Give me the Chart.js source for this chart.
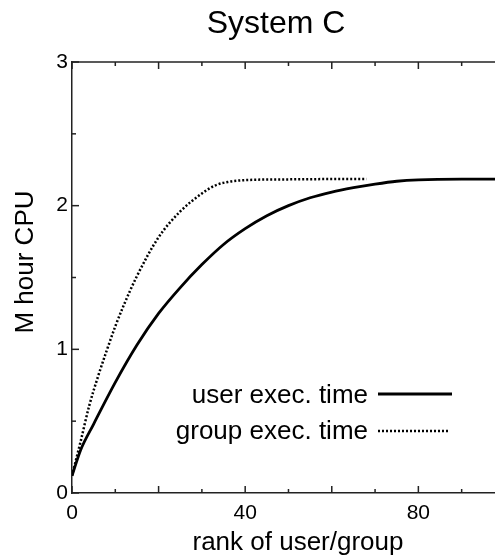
<!DOCTYPE html>
<html>
<head>
<meta charset="utf-8">
<script src="https://cdn.jsdelivr.net/npm/chart.js@4/dist/chart.umd.min.js"></script>
<style>
  html, body { margin: 0; padding: 0; background: #fff; overflow: hidden; }
  #wrap { width: 495px; height: 560px; position: relative; }
</style>
</head>
<body>
<div id="wrap"><canvas id="cpuChart"></canvas></div>
<script>
// --- data ---
const userRank = [0, 2, 5, 10, 15, 20, 25, 30, 35, 40, 45, 50, 55, 60, 65, 70, 75, 80, 90, 100];
const userCpu = [0.12, 0.30, 0.48, 0.77, 1.03, 1.25, 1.43, 1.59, 1.73, 1.84, 1.93, 2.00, 2.055, 2.095, 2.125, 2.15, 2.17, 2.18, 2.185, 2.185];

const groupRank = [0, 2, 4, 6, 8, 10, 12, 15, 20, 25, 30, 33, 36, 40, 50, 60, 68];
const groupCpu = [0.12, 0.36, 0.61, 0.81, 0.99, 1.16, 1.31, 1.51, 1.78, 1.96, 2.085, 2.14, 2.165, 2.178, 2.183, 2.185, 2.185];

const xLabels = [0, 40, 80];
const yLabels = [0, 1, 2, 3];

const FONT = "'Liberation Sans', Arial, sans-serif";
const INK = "#000";

// inward tick marks, top border, titles and the legend
const framePlugin = {
  id: "frame",
  afterDraw(chart) {
    const ctx = chart.ctx;
    const area = chart.chartArea;
    const xs = chart.scales.x;
    const ys = chart.scales.y;
    ctx.save();
    ctx.strokeStyle = "#222";
    ctx.lineWidth = 1.5;

    // top border
    ctx.beginPath();
    ctx.moveTo(area.left, area.top);
    ctx.lineTo(area.right, area.top);
    ctx.stroke();

    // x ticks (bottom and top)
    for (let v = 0; v <= xs.max; v += 10) {
      const px = xs.getPixelForValue(v);
      const len = v % 20 === 0 ? 7 : 4;
      ctx.beginPath();
      ctx.moveTo(px, area.bottom);
      ctx.lineTo(px, area.bottom - len);
      ctx.moveTo(px, area.top);
      ctx.lineTo(px, area.top + len);
      ctx.stroke();
    }
    // y ticks (left)
    for (let v = 0; v <= ys.max; v += 0.5) {
      const py = ys.getPixelForValue(v);
      const len = Number.isInteger(v) ? 7 : 4;
      ctx.beginPath();
      ctx.moveTo(area.left, py);
      ctx.lineTo(area.left + len, py);
      ctx.stroke();
    }

    // titles
    ctx.fillStyle = INK;
    ctx.textBaseline = "alphabetic";
    ctx.textAlign = "center";
    ctx.font = "32px " + FONT;
    ctx.fillText("System C", 276, 33);

    ctx.font = "26px " + FONT;
    ctx.fillText("rank of user/group", 298, 550);

    ctx.save();
    ctx.translate(33, 262);
    ctx.rotate(-Math.PI / 2);
    ctx.fillText("M hour CPU", 0, 0);
    ctx.restore();

    // legend
    const rows = [
      { y: 403, lineY: 394, len: 74 },
      { y: 439, lineY: 431, len: 71 }
    ];
    chart.data.datasets.forEach((ds, i) => {
      const r = rows[i];
      ctx.textAlign = "right";
      ctx.font = "26px " + FONT;
      ctx.fillText(ds.label, 368, r.y);
      ctx.beginPath();
      ctx.setLineDash(ds.borderDash || []);
      ctx.lineWidth = ds.borderWidth;
      ctx.strokeStyle = ds.borderColor;
      ctx.moveTo(378, r.lineY);
      ctx.lineTo(378 + r.len, r.lineY);
      ctx.stroke();
      ctx.setLineDash([]);
    });
    ctx.restore();
  }
};

new Chart(document.getElementById("cpuChart"), {
  type: "line",
  data: {
    datasets: [
      {
        label: "user exec. time",
        data: userRank.map((r, i) => ({ x: r, y: userCpu[i] })),
        borderColor: INK,
        borderWidth: 2.8,
        pointRadius: 0,
        cubicInterpolationMode: "monotone",
        fill: false
      },
      {
        label: "group exec. time",
        data: groupRank.map((r, i) => ({ x: r, y: groupCpu[i] })),
        borderColor: INK,
        borderWidth: 2.5,
        borderDash: [2, 2],
        pointRadius: 0,
        cubicInterpolationMode: "monotone",
        fill: false
      }
    ]
  },
  options: {
    responsive: true,
    maintainAspectRatio: false,
    animation: false,
    layout: { padding: { top: 62, left: 0, right: 0, bottom: 0 } },
    plugins: {
      legend: { display: false },
      title: { display: false },
      tooltip: { enabled: false }
    },
    scales: {
      x: {
        type: "linear",
        min: 0,
        max: 97.7,
        grid: { display: false, drawTicks: false },
        border: { display: true, color: "#222", width: 1.5 },
        ticks: {
          stepSize: 10,
          includeBounds: false,
          autoSkip: false,
          maxRotation: 0,
          padding: 8,
          color: INK,
          font: { family: FONT, size: 21 },
          callback: v => xLabels.includes(v) ? String(v) : ""
        },
        afterFit: s => { s.height = 67; }
      },
      y: {
        min: 0,
        max: 3,
        grid: { display: false, drawTicks: false },
        border: { display: true, color: "#222", width: 1.5 },
        ticks: {
          stepSize: 0.5,
          autoSkip: false,
          padding: 4,
          color: INK,
          font: { family: FONT, size: 21 },
          callback: v => yLabels.includes(v) ? String(v) : ""
        },
        afterFit: s => { s.width = 72; }
      }
    }
  },
  plugins: [framePlugin]
});
</script>
</body>
</html>
